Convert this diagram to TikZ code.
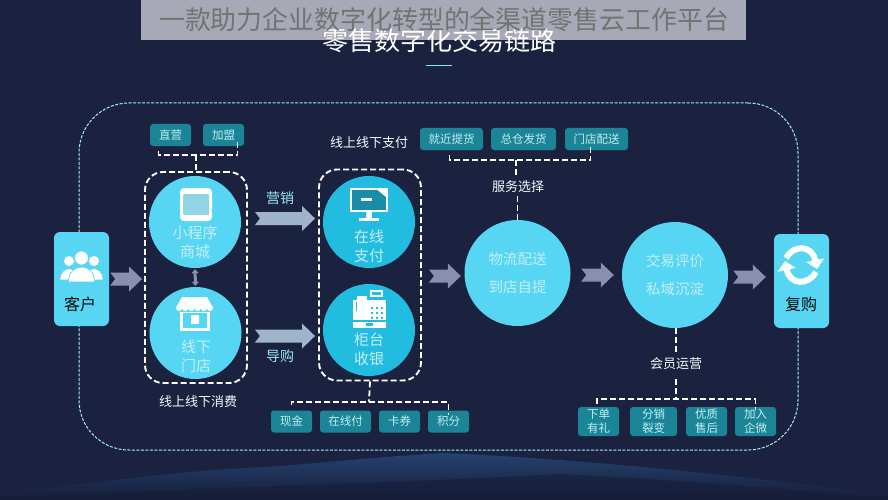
\documentclass[tikz,border=0pt]{standalone}
\usepackage{fontspec}
\setmainfont{Noto Sans CJK SC}
\usetikzlibrary{arrows.meta,calc}
\definecolor{bgnavy}{HTML}{1A2240}
\definecolor{skyb}{HTML}{56D6F2}
\definecolor{deepb}{HTML}{22BCE0}
\definecolor{teal}{HTML}{1B8597}
\definecolor{tagtext}{HTML}{BFEFF5}
\definecolor{disctext}{HTML}{C5EEF6}
\definecolor{flowa}{HTML}{8B8FAE}
\definecolor{flowb}{HTML}{9FB4C9}
\definecolor{wavetop}{HTML}{25426F}
\definecolor{wavelow}{HTML}{161D38}
\definecolor{tabscreen}{HTML}{93D3E6}
\begin{document}
\begin{tikzpicture}[
        x=1pt,y=-1pt,
        disc/.style={circle,fill=skyb,minimum size=92pt,inner sep=0pt},
        disctx/.style={text=disctext,align=center,inner sep=0pt,font=\fontsize{15}{19}\selectfont},
        bigdisc/.style={disc,minimum size=106pt,text=disctext,align=center,font=\fontsize{14.5}{28}\selectfont},
        card/.style={rectangle,rounded corners=6pt,fill=skyb,minimum width=55pt,minimum height=94pt,inner sep=0pt},
        cardtext/.style={text=black!80!bgnavy,font=\fontsize{16}{18}\selectfont},
        tagbox/.style={rectangle,rounded corners=3pt,fill=teal,minimum height=22pt,inner sep=0pt,text=tagtext,align=center,font=\fontsize{11.5}{14}\selectfont},
        tallbox/.style={tagbox,minimum height=29pt},
        grp/.style={draw=white,rectangle,rounded corners=18pt,line width=1.9pt,dash pattern=on 6pt off 3pt,minimum width=102pt,minimum height=211pt,inner sep=0pt},
        chain/.style={draw=white!50!skyb,rectangle,rounded corners=50pt,line width=1pt,dash pattern=on 3pt off 1.5pt,minimum width=719pt,minimum height=347pt,inner sep=0pt},
        lnk/.style={draw=white,line width=1.8pt,dash pattern=on 6pt off 3pt},
        note/.style={text=white!92!skyb,inner sep=1pt,font=\fontsize{13}{15}\selectfont},
        hint/.style={text=skyb!60!white,inner sep=1pt,font=\fontsize{14}{16}\selectfont},
        flow/.style 2 args={to path={let \p1=(\tikztostart),\p2=(\tikztotarget) in
          (\x1+#1,\y1+6.5pt) -- (\x2-#2-13pt,\y1+6.5pt) -- (\x2-#2-13pt,\y1+12.5pt) -- (\x2-#2,\y1)
          -- (\x2-#2-13pt,\y1-12.5pt) -- (\x2-#2-13pt,\y1-6.5pt) -- (\x1+#1,\y1-6.5pt) -- (\x1+#1+5pt,\y1) -- cycle}},
        glyph/.style={fill=white,draw=none},
        turn/.style={draw=white,line width=6pt,-{Triangle[length=9pt,width=18pt]}}
      ]
      \useasboundingbox (0,0) rectangle (888,500);
      \fill[bgnavy] (0,0) rectangle (888,500);
      \shade[top color=wavetop,bottom color=wavelow] (0,500) -- (0,493) .. controls (90,484) and (180,470) .. (267,467) .. controls (330,462) and (390,456) .. (444,453) .. controls (600,460) and (760,478) .. (888,495) -- (888,500) -- cycle;
      \fill[wavelow,opacity=.6] (0,500) -- (0,497) .. controls (200,488) and (420,482) .. (560,474) .. controls (680,480) and (800,490) .. (888,498) -- (888,500) -- cycle;
      \node[text=white,font=\fontsize{26}{28}\selectfont] (head) at (439,41) {零售数字化交易链路};
      \fill[white,opacity=.62] (141,0) rectangle (746,40);
      \node[text=black!55,font=\fontsize{25.9}{28}\selectfont] (banner) at (444,20) {一款助力企业数字化转型的全渠道零售云工作平台};
      \draw[skyb!70!white,line width=1pt] (426,66) -- (452,66);
      \node[chain] (frm) at (438.5,276.5) {};

      \node[card] (cust) at (81.5,279) {};
      \node[card] (back) at (801.5,281) {};
      \node[cardtext] (custt) at (80,304) {客户};
      \node[cardtext] (backt) at (801,304) {复购};

      \node[grp] (ga) at (196,277.5) {};
      \node[grp] (gb) at (370,275) {};
      \node[disc] (mini) at (195,222) {};
      \node[disc] (shop) at (195.5,333) {};
      \node[disc,fill=deepb] (web) at (369,222) {};
      \node[disc,fill=deepb] (till) at (369,330) {};
      \node[disctx] (minit) at (195,242) {小程序\\商城};
      \node[disctx] (shopt) at (196,356) {线下\\门店};
      \node[disctx] (webt) at (369,246) {在线\\支付};
      \node[disctx] (tillt) at (369,349) {柜台\\收银};
      \node[bigdisc] (ship) at (517.5,273) {物流配送\\到店自提};
      \node[bigdisc] (deal) at (675,275) {交易评价\\私域沉淀};

      \node[tagbox,minimum width=41pt] (zy) at (170.5,135) {直营};
      \node[tagbox,minimum width=41pt] (jm) at (223.5,135) {加盟};
      \node[tagbox,minimum width=63pt] (jj) at (451.5,139) {就近提货};
      \node[tagbox,minimum width=65pt] (zc) at (523.5,139) {总仓发货};
      \node[tagbox,minimum width=63pt] (md) at (596.5,139) {门店配送};
      \node[tagbox,minimum width=41pt] (xj) at (291.5,421.5) {现金};
      \node[tagbox,minimum width=51pt] (zx) at (345.5,421.5) {在线付};
      \node[tagbox,minimum width=41pt] (kq) at (399.5,421.5) {卡券};
      \node[tagbox,minimum width=41pt] (jf) at (448.5,421.5) {积分};
      \node[tallbox,minimum width=41pt] (xd) at (598.5,421.5) {下单\\有礼};
      \node[tallbox,minimum width=47pt] (fx) at (653.5,421.5) {分销\\裂变};
      \node[tallbox,minimum width=41pt] (yz) at (706.5,421.5) {优质\\售后};
      \node[tallbox,minimum width=41pt] (jr) at (755.5,421.5) {加入\\企微};

      \node[note] (xf) at (198,402) {线上线下消费};
      \node[note] (zf) at (369,143) {线上线下支付};
      \node[note] (fw) at (518,187) {服务选择};
      \node[note] (hy) at (676,364) {会员运营};
      \node[hint] (yx) at (280,198) {营销};
      \node[hint] (dg) at (280,356) {导购};

      \coordinate (ba) at (196,155);
      \coordinate (bb) at (516,160);
      \coordinate (bc) at (369,402);
      \coordinate (bd) at (676,399);
      \draw[lnk] (zy.south) ++(-12,5) |- (ba) -| ([xshift=14pt,yshift=5pt]jm.south);
      \draw[lnk] (jj.south) ++(-2,5) |- (bb) -| ([xshift=-6pt,yshift=5pt]md.south);
      \draw[lnk] (xj.north) ++(0,-5) |- (bc) -| ([yshift=-5pt]jf.north);
      \draw[lnk] (xd.north) ++(-1.5,-3) |- (bd) -| ([yshift=-3pt]jr.north);
      \draw[lnk] (ba) -- (ga.north);
      \draw[lnk] (gb.south) -- (bc);
      \draw[lnk,shorten >=2pt] (bb) -- (fw.north -| bb);
      \draw[lnk,shorten <=2pt] (fw.south -| ship) -- (ship.north);
      \draw[lnk,shorten >=5pt] (deal.south) ++(1,0) -- (hy.north);
      \draw[lnk,shorten <=8pt] (hy.south) -- (bd);

      \draw[flowa,line width=3pt,shorten <=1pt,shorten >=1pt,{Triangle[length=4pt,width=7pt]}-{Triangle[length=4pt,width=7pt]}] (mini.south) -- (shop.north);
      \coordinate (ysell) at (0,218.5);
      \coordinate (yguid) at (0,336);
      \coordinate (ycust) at (0,279);
      \coordinate (yship) at (0,276);
      \coordinate (ydeal) at (0,275);
      \coordinate (yback) at (0,277);
      \fill[flowa] (cust.east |- ycust) to[flow={1pt}{2pt}] (ga.west |- ycust);
      \fill[flowb] (ga.east |- ysell) to[flow={7pt}{3pt}] (gb.west |- ysell);
      \fill[flowb] (ga.east |- yguid) to[flow={7pt}{3pt}] (gb.west |- yguid);
      \fill[flowa] (gb.east |- yship) to[flow={7pt}{3.5pt}] (ship.west |- yship);
      \fill[flowa] (ship.east |- ydeal) to[flow={10.5pt}{8pt}] (deal.west |- ydeal);
      \fill[flowa] (deal.east |- yback) to[flow={5pt}{8pt}] (back.west |- yback);

      \fill[glyph,rounded corners=4pt] (180,188) rectangle (212,221);
      \fill[tabscreen,rounded corners=1pt] (183,194) rectangle (209,215);

      \fill[glyph] (182,297) -- (207,297) -- (213,308) -- (176,308) -- cycle;
      \foreach \sx in {179,185.2,191.4,197.6,203.8,210}
        \fill[glyph] (\sx,308) circle[radius=3.1];
      \fill[glyph] (180,312) rectangle (210,331);
      \fill[skyb] (183,313) rectangle (207,328);
      \fill[glyph,rounded corners=1pt] (191,315) rectangle (199,324);

      \fill[glyph] (350,188) rectangle (388,212);
      \fill[deepb!75!black] (352,190) rectangle (386,210);
      \fill[glyph] (386,188) -- (375,188) -- (386,197) -- cycle;
      \fill[glyph] (361,198) rectangle (372,201);
      \fill[glyph] (366,212) rectangle (372,218);
      \fill[glyph] (359,218) rectangle (379,221);

      \fill[glyph] (353,300) rectangle (386,328);
      \fill[deepb] (356,302) rectangle (364,311);
      \fill[glyph] (357,296) rectangle (367,311);
      \fill[glyph] (370,290) rectangle (383,297);
      \fill[deepb] (372,292) rectangle (381,295);
      \foreach \px in {372,377,382}
        \foreach \py in {308,313,318}
          \fill[deepb] (\px-1.2,\py-1.2) rectangle (\px+1.2,\py+1.2);
      \fill[deepb] (353,320) rectangle (386,322);
      \fill[deepb] (366,323) rectangle (373,326);

      \foreach \cx/\cy/\hr/\bw/\bh in {69/261/5.5/9/19,94/261/5.5/9/19,81.5/258/7/13/24}{
        \fill[glyph,draw=skyb,line width=.6pt] (\cx,\cy) circle[radius=\hr];
        \fill[glyph,draw=skyb,line width=.6pt] (\cx-\bw,\cy+\bh) .. controls (\cx-\bw,\cy+4) and (\cx+\bw,\cy+4) .. (\cx+\bw,\cy+\bh) -- cycle;
      }

      \draw[turn] (786,258) .. controls (793,245) and (812,244) .. (817,269);
      \draw[turn] (816,272) .. controls (809,285) and (790,286) .. (785,261);
    \end{tikzpicture}
\end{document}
